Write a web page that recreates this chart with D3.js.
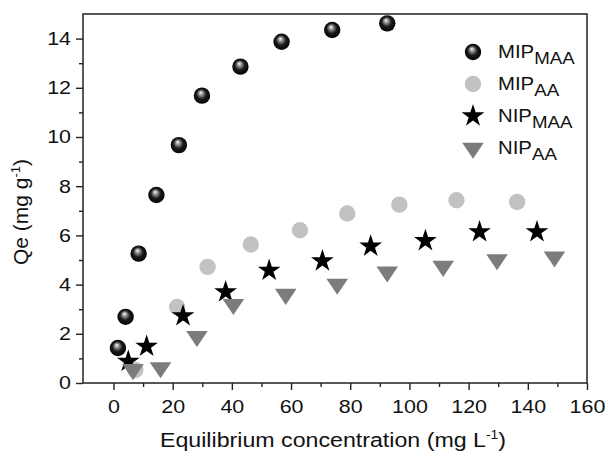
<!DOCTYPE html>
<html>
<head>
<meta charset="utf-8">
<script src="https://cdn.jsdelivr.net/npm/d3@7/dist/d3.min.js"></script>
<style>
    body { margin: 0; background: #fff; }
    svg text { font-family: Arial, "Liberation Sans", sans-serif; fill: #111; }
</style>
</head>
<body>
<div id="chart"></div>
<script>
// concentration (mg/L) and Qe (mg/g)
const mipMaaX = [1.5, 4.1, 8.5, 14.5, 22.1, 29.9, 42.9, 56.8, 73.9, 92.5];
const mipMaaY = [1.42, 2.69, 5.26, 7.64, 9.67, 11.68, 12.86, 13.87, 14.35, 14.62];

const mipAaX = [7.4, 21.5, 31.8, 46.4, 63.0, 79.0, 96.6, 115.9, 136.4];
const mipAaY = [0.53, 3.09, 4.72, 5.63, 6.21, 6.89, 7.25, 7.43, 7.36];

const nipMaaX = [5.0, 11.2, 23.5, 37.9, 52.6, 70.6, 86.9, 105.4, 123.7, 143.1];
const nipMaaY = [0.88, 1.49, 2.73, 3.70, 4.58, 4.96, 5.56, 5.78, 6.14, 6.14];

const nipAaX = [6.6, 15.9, 28.2, 40.5, 58.2, 75.6, 92.5, 111.4, 129.6, 149.0];
const nipAaY = [0.55, 0.63, 1.90, 3.20, 3.61, 4.02, 4.52, 4.75, 5.02, 5.13];

const xTicks = [0, 20, 40, 60, 80, 100, 120, 140, 160];
const yTicks = [0, 2, 4, 6, 8, 10, 12, 14];

const SERIES = [
    { name: 'MIP', sub: 'MAA', xs: mipMaaX, ys: mipMaaY, shape: 'sphere' },
    { name: 'MIP', sub: 'AA', xs: mipAaX, ys: mipAaY, shape: 'circle', color: '#c2c2c2' },
    { name: 'NIP', sub: 'MAA', xs: nipMaaX, ys: nipMaaY, shape: 'star', color: '#000' },
    { name: 'NIP', sub: 'AA', xs: nipAaX, ys: nipAaY, shape: 'triangle', color: '#7c7c7c' }
];

const width = 608;
const height = 456;
const margin = { top: 14, right: 21, bottom: 73, left: 83 };
const innerWidth = width - margin.left - margin.right;
const innerHeight = height - margin.top - margin.bottom;
// the original figure is a little stretched sideways, so the text is too
const stretch = 1.16;

const svg = d3.select('#chart').append('svg')
    .attr('width', width)
    .attr('height', height);

const defs = svg.append('defs');
const grad = defs.append('radialGradient')
    .attr('id', 'sphere')
    .attr('cx', '0.5').attr('cy', '0.5').attr('r', '0.55')
    .attr('fx', '0.42').attr('fy', '0.3');
grad.append('stop').attr('offset', '0').attr('stop-color', '#ffffff');
grad.append('stop').attr('offset', '0.22').attr('stop-color', '#9a9a9a');
grad.append('stop').attr('offset', '0.55').attr('stop-color', '#1a1a1a');
grad.append('stop').attr('offset', '1').attr('stop-color', '#000');

const chartGroup = svg.append('g')
    .attr('transform', `translate(${margin.left},${margin.top})`);

const xScale = d3.scaleLinear().domain([-10.3, 160]).range([0, innerWidth]);
const yScale = d3.scaleLinear().domain([0, 15]).range([innerHeight, 0]);

// frame
chartGroup.append('rect')
    .attr('width', innerWidth)
    .attr('height', innerHeight)
    .attr('fill', 'none')
    .attr('stroke', '#222')
    .attr('stroke-width', 1.5);

const styleAxis = (group) => {
    group.select('.domain').remove();
    group.selectAll('line').attr('stroke', '#222').attr('stroke-width', 1.4);
    group.selectAll('text')
        .attr('font-size', 18.5)
        .attr('fill', '#111')
        .attr('x', function scaleX() { return +d3.select(this).attr('x') / stretch; })
        .attr('transform', `scale(${stretch},1)`);
};

chartGroup.append('g')
    .attr('transform', `translate(0,${innerHeight})`)
    .call(d3.axisBottom(xScale).tickValues(xTicks).tickSize(7).tickPadding(10).tickFormat(d3.format('d')))
    .call(styleAxis);

chartGroup.append('g')
    .attr('transform', `translate(0,${innerHeight})`)
    .call(d3.axisBottom(xScale).tickValues(d3.range(10, 160, 20)).tickSize(4).tickFormat(''))
    .call(styleAxis);

chartGroup.append('g')
    .call(d3.axisLeft(yScale).tickValues(yTicks).tickSize(7).tickPadding(5).tickFormat(d3.format('d')))
    .call(styleAxis);

chartGroup.append('g')
    .call(d3.axisLeft(yScale).tickValues(d3.range(1, 15, 2)).tickSize(4).tickFormat(''))
    .call(styleAxis);

// axis titles
const xTitle = svg.append('text')
    .attr('transform', `translate(${333},447) scale(${stretch},1)`)
    .attr('text-anchor', 'middle')
    .attr('font-size', 20);
xTitle.append('tspan').text('Equilibrium concentration (mg L');
xTitle.append('tspan').attr('font-size', 12).attr('dy', -8).text('-1');
xTitle.append('tspan').attr('dy', 8).text(')');

const yTitle = svg.append('text')
    .attr('transform', 'translate(28,212) rotate(-90)')
    .attr('text-anchor', 'middle')
    .attr('font-size', 21);
yTitle.append('tspan').text('Qe (mg g');
yTitle.append('tspan').attr('font-size', 13).attr('dy', -8).text('-1');
yTitle.append('tspan').attr('dy', 8).text(')');

function drawMarker(group, shape, color) {
    if (shape === 'sphere') {
        group.append('circle').attr('r', 8.2).attr('fill', 'url(#sphere)');
    } else if (shape === 'circle') {
        group.append('circle').attr('r', 8.2).attr('fill', color);
    } else if (shape === 'star') {
        group.append('path').attr('d', d3.symbol(d3.symbolStar, 160)()).attr('fill', color);
    } else {
        group.append('path')
            .attr('d', d3.symbol(d3.symbolTriangle, 150)())
            .attr('transform', `scale(${stretch},1) rotate(180)`)
            .attr('fill', color);
    }
}

SERIES.forEach((series) => {
    const points = series.xs.map((x, i) => ({ x, y: series.ys[i] }));
    chartGroup.selectAll(null)
        .data(points)
        .enter()
        .append('g')
        .attr('transform', (d) => `translate(${xScale(d.x)},${yScale(d.y)})`)
        .each(function drawPoint() {
            drawMarker(d3.select(this), series.shape, series.color);
        });
});

// legend
const legend = svg.append('g').attr('transform', 'translate(473,52)');
SERIES.forEach((series, i) => {
    const row = legend.append('g').attr('transform', `translate(0,${i * 32})`);
    drawMarker(row, series.shape, series.color);
    const label = row.append('text')
        .attr('transform', 'translate(25,6) scale(1.1,1)')
        .attr('font-size', 18.5);
    label.append('tspan').text(series.name);
    label.append('tspan').attr('font-size', 17).attr('dy', 6).text(series.sub);
});
</script>
</body>
</html>
